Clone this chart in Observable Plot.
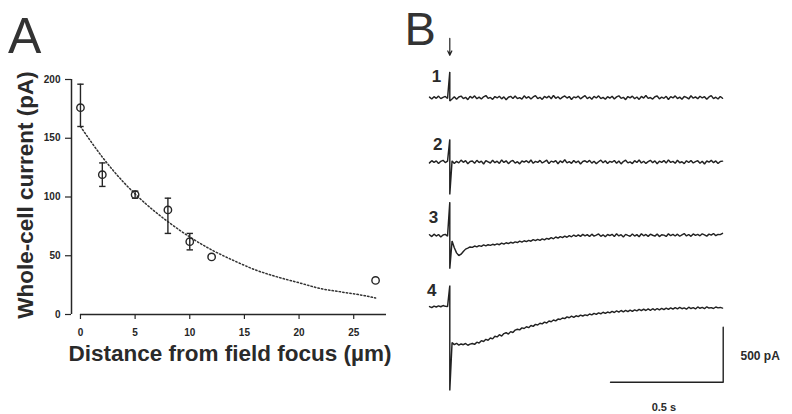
<!DOCTYPE html>
<html>
<head>
<meta charset="utf-8">
<script src="https://cdn.jsdelivr.net/npm/d3@7"></script>
<script src="https://cdn.jsdelivr.net/npm/@observablehq/plot@0.6"></script>
<style>
  html, body { margin: 0; padding: 0; background: #ffffff; }
  #fig { position: relative; width: 792px; height: 414px; overflow: hidden; background: #ffffff; font-family: "Liberation Sans", Arial, sans-serif; }
  .letter { position: absolute; font-family: "Liberation Sans", Arial, sans-serif; color: #333; line-height: 1; }
  #panelA, #panelB { position: absolute; top: 0; }
  #panelA { left: 0; }
  #panelB { left: 400px; }
  g[aria-label="scale-label"] { letter-spacing: 1.5px; }
</style>
</head>
<body>
<div id="fig">
  <div id="panelA"></div>
  <div id="panelB"></div>
  <div class="letter" style="left:8px;top:10.5px;font-size:50px;">A</div>
  <div class="letter" style="left:404.6px;top:4.9px;font-size:47px;">B</div>
</div>
<script>
// ---------- Panel A data ----------
const distance = [0, 2, 5, 8, 10, 12, 27];            // µm
const current  = [176, 119, 102, 89, 62, 49, 29];     // pA
const errLow   = [160, 109, 99, 69, 55, null, null];
const errHigh  = [196, 129, 105, 99, 69, null, null];
const fitDistance = [0, 2, 4, 6, 8, 10, 12, 14, 16, 18, 20, 22, 24, 26, 27];
const fitCurrent  = [160, 134, 112, 94, 79, 66, 55, 46, 38, 32, 27, 22, 19, 16, 14];
const xTicks = [0, 5, 10, 15, 20, 25];
const yTicks = [0, 50, 100, 150, 200];
const xLabel = "Distance from field focus (µm)";
const yLabel = "Whole-cell current (pA)";

// ---------- Panel B data (pA relative to each trace's baseline) ----------
const traceNames = ["1", "2", "3", "4"];
const sampleStep = 0.01;   // s
const preStart = -0.09;    // s
const postStart = 0.01;    // s
const tracePre = [
  [5, -12, 9, -6, 14, -9, 3, 11, -7],
  [-8, 12, -4, 10, -14, 6, 15, -5, 8],
  [7, -10, 12, -5, 9, -14, 4, 10, -6],
  [6, -4, 10, 2, 12, 4, 15, 8, 5]
];
const tracePost = [
  [-12, 9, -15, 6, 14, -8, 3, -18, 11, -4,
   16, -10, 5, -13, 8, 19, -6, 2, -16, 10,
   -3, 13, -11, 7, -19, 4, 12, -7, 15, -9,
   1, -14, 17, -5, 9, -12, 6, 18, -8, 3,
   -16, 11, -2, 14, -10, 20, -6, 8, -13, 5,
   15, -4, 10, -17, 7, -1, 13, -11, 4, 18,
   -9, 6, -14, 12, -3, 16, -8, 2, -15, 9,
   -5, 13, -12, 7, 17, -6, 3, -18, 10, -2,
   14, -10, 6, -16, 11, -4, 19, -7, 1, -13,
   8, 15, -11, 4, -6, 12, -17, 9, -3, 16,
   -8, 5, -14, 10, 2, -12, 17, -5, 7, -10,
   13, -3, 9, -15, 6, 18, -9, 4, -12, 11,
   -6],
  [10, -14, 6, -8, 17, -3, 12, -16, 4, 9,
   -11, 15, -5, 8, -18, 13, 2, -9, 16, -6,
   7, -13, 19, -4, 11, -15, 5, 14, -10, 3,
   -17, 9, -2, 12, -7, 18, -12, 6, -4, 15,
   -9, 4, 16, -14, 8, -1, 13, -16, 10, -5,
   20, -8, 3, -12, 14, -6, 9, -18, 5, 11,
   -3, 15, -10, 7, -15, 2, 17, -7, 12, -13,
   6, -2, 14, -11, 9, -17, 4, 16, -8, 1,
   -14, 12, -5, 18, -9, 7, -13, 3, 15, -6,
   10, -16, 8, -3, 13, -10, 19, -4, 6, -12,
   16, -7, 2, -15, 11, -5, 14, -9, 4, 12,
   -11, 7, -18, 9, -2, 15, -6, 10, -13, 5,
   8],
  [-50, -112, -158, -182, -170, -146, -124, -115, -104, -108,
   -96, -104, -92, -99, -86, -95, -84, -90, -80, -86,
   -76, -84, -70, -79, -66, -74, -62, -70, -58, -64,
   -52, -61, -48, -56, -44, -52, -38, -47, -35, -44,
   -30, -40, -26, -34, -20, -30, -14, -24, -10, -20,
   -6, -16, -2, -12, 4, -9, 6, -8, 10, -4,
   8, -10, 12, -6, 3, 14, -8, 6, -12, 9,
   -2, 11, -9, 15, -4, 7, -13, 10, 1, -7,
   13, -5, 8, -11, 16, -3, 9, -8, 12, 2,
   -6, 14, -10, 7, 3, -9, 15, -2, 10, -5,
   12, -7, 6, 17, -4, 9, -8, 14, 1, 10,
   -3, 15, 6, -6, 12, 3, 18, -2, 10, 8,
   20],
  [-322, -340, -328, -345, -334, -341, -330, -346, -336, -330,
   -338, -318, -326, -304, -312, -292, -300, -280, -288, -264,
   -270, -250, -262, -240, -232, -244, -222, -230, -208, -200,
   -206, -188, -194, -178, -186, -166, -174, -156, -162, -146,
   -152, -136, -144, -126, -132, -116, -124, -108, -112, -98,
   -104, -88, -96, -82, -92, -78, -86, -72, -80, -70,
   -76, -62, -70, -56, -66, -52, -60, -46, -56, -44,
   -52, -38, -48, -34, -44, -30, -42, -28, -40, -26,
   -38, -24, -34, -20, -32, -18, -30, -16, -28, -14,
   -26, -12, -24, -10, -22, -8, -20, -6, -18, -4,
   -16, -2, -14, -6, -18, 0, -12, -4, -16, 2,
   -10, -2, -14, 4, -8, -4, -12, 2, -6, -2,
   -8]
];
const artifactTop    = [234, 205, 303, 197];
const artifactBottom = [-30, -295, -303, -757];
const labelTime  = [-0.059, -0.054, -0.072, -0.080];
const labelLevel = [195, 161, 166, 147];
const stimulusArrow = [538, 385];   // pA above trace 1 baseline
const scaleBarTime = 0.5;           // s
const scaleBarCurrent = 500;        // pA
const scaleBarEnd = 1.213;          // s
const scaleBarBase = -682;          // pA
const scaleTimeLabel = "0.5 s";
const scaleCurrentLabel = "500 pA";

// ---------- Panel A ----------
const points = distance.map((d, i) => ({d, c: current[i], lo: errLow[i], hi: errHigh[i]}));
const errPoints = points.filter(p => p.lo != null);
const fit = fitDistance.map((d, i) => ({d, c: fitCurrent[i]}));
const xDomain = [-0.82, 28];
const yDomain = [0, 200];
const ink = "#262626";
const capSymbol = {
  draw(context, size) {
    const r = Math.sqrt(size / Math.PI);
    context.moveTo(-r, 0);
    context.lineTo(r, 0);
  }
};

const chartA = Plot.plot({
  width: 400,
  height: 414,
  marginLeft: 71,
  marginRight: 14,
  marginTop: 79,
  marginBottom: 100,
  style: {background: "transparent", fontFamily: "Liberation Sans, Arial, sans-serif", color: ink, overflow: "visible"},
  x: {domain: xDomain},
  y: {domain: yDomain},
  marks: [
    Plot.axisY({ticks: yTicks, tickSize: 6, tickPadding: 5, fontSize: 10, fontWeight: "bold", label: null, stroke: ink, strokeWidth: 1.2}),
    Plot.axisX({ticks: xTicks, tickSize: 5, tickPadding: 9, fontSize: 10, fontWeight: "bold", label: null, stroke: ink, strokeWidth: 1.2}),
    Plot.ruleX([{x: xDomain[0], y1: yDomain[0], y2: yDomain[1]}], {x: "x", y1: "y1", y2: "y2", stroke: ink, strokeWidth: 1.5}),
    Plot.ruleY([{y: yDomain[0], x1: 0, x2: xDomain[1]}], {y: "y", x1: "x1", x2: "x2", stroke: ink, strokeWidth: 1.5}),
    Plot.line(fit, {x: "d", y: "c", stroke: "#333", strokeWidth: 1.5, strokeDasharray: "1.4,2.2", curve: "monotone-x"}),
    Plot.ruleX(errPoints, {x: "d", y1: "lo", y2: "hi", stroke: ink, strokeWidth: 1.4}),
    Plot.dot(errPoints, {x: "d", y: "lo", symbol: capSymbol, r: 3.2, stroke: ink, strokeWidth: 1.4}),
    Plot.dot(errPoints, {x: "d", y: "hi", symbol: capSymbol, r: 3.2, stroke: ink, strokeWidth: 1.4}),
    Plot.dot(points, {x: "d", y: "c", r: 3.7, stroke: ink, strokeWidth: 1.4, fill: "none"}),
    Plot.text([yLabel], {text: d => d, frameAnchor: "left", textAnchor: "middle", rotate: -90, dx: -46.2, dy: -2, fontSize: 22.5, fontWeight: "bold", fill: "#2a2a2a"}),
    Plot.text([xLabel], {text: d => d, frameAnchor: "bottom", textAnchor: "middle", dx: 1, dy: 46, fontSize: 22.5, fontWeight: "bold", fill: "#2a2a2a"})
  ]
});
document.getElementById("panelA").appendChild(chartA);

// ---------- Panel B ----------
const traceOffset = {"1": 1905, "2": 1320, "3": 652, "4": 0};
const traceData = [];
traceNames.forEach((name, k) => {
  tracePre[k].forEach((v, i) => traceData.push({trace: name, t: preStart + i * sampleStep, v}));
  traceData.push({trace: name, t: 0, v: artifactTop[k]});
  traceData.push({trace: name, t: 0, v: artifactBottom[k]});
  tracePost[k].forEach((v, i) => traceData.push({trace: name, t: postStart + i * sampleStep, v}));
});
const labels = traceNames.map((name, k) => ({name, t: labelTime[k], y: traceOffset[name] + labelLevel[k]}));
const arrowData = [{t: 0, y1: traceOffset["1"] + stimulusArrow[0], y2: traceOffset["1"] + stimulusArrow[1]}];
const scaleBar = [
  {t: scaleBarEnd - scaleBarTime, y: scaleBarBase},
  {t: scaleBarEnd, y: scaleBarBase},
  {t: scaleBarEnd, y: scaleBarBase + scaleBarCurrent}
];

const chartB = Plot.plot({
  width: 392,
  height: 414,
  marginLeft: 26.76,
  marginRight: 60.95,
  marginTop: 31.7,
  marginBottom: 8.3,
  style: {background: "transparent", fontFamily: "Liberation Sans, Arial, sans-serif", color: ink, overflow: "visible"},
  x: {domain: [-0.1, 1.25], axis: null},
  y: {domain: [-900, 2500], axis: null},
  marks: [
    Plot.line(traceData, {x: "t", y: d => d.v + traceOffset[d.trace], z: "trace", stroke: "#222", strokeWidth: 1.45, strokeLinejoin: "miter"}),
    Plot.arrow(arrowData, {x1: "t", x2: "t", y1: "y1", y2: "y2", stroke: "#222", strokeWidth: 1.2, headLength: 6, headAngle: 50}),
    Plot.text(labels, {x: "t", y: "y", text: "name", fontSize: 17, fontWeight: "bold", fill: "#2a2a2a"}),
    Plot.line(scaleBar, {x: "t", y: "y", stroke: "#222", strokeWidth: 1.4}),
    Plot.text([{t: scaleBarEnd, y: scaleBarBase + scaleBarCurrent * 0.474, s: scaleCurrentLabel}], {x: "t", y: "y", text: "s", dx: 17.3, textAnchor: "start", fontSize: 12, fontWeight: "bold", fill: "#2a2a2a", ariaLabel: "scale-label"}),
    Plot.text([{t: scaleBarEnd - scaleBarTime / 2, y: scaleBarBase, s: scaleTimeLabel}], {x: "t", y: "y", text: "s", dx: -3, dy: 25.5, fontSize: 11, fontWeight: "bold", fill: "#2a2a2a", ariaLabel: "scale-label"})
  ]
});
document.getElementById("panelB").appendChild(chartB);
</script>
</body>
</html>
